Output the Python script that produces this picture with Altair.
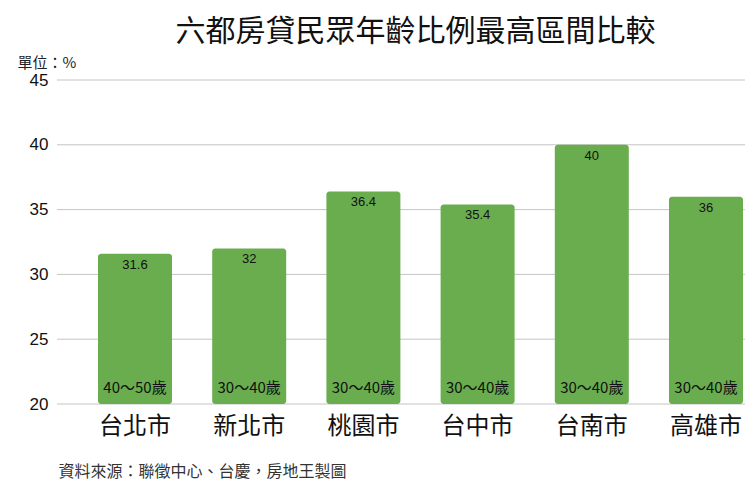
import altair as alt
import pandas as pd

cities = ["台北市", "新北市", "桃園市", "台中市", "台南市", "高雄市"]
values = [31.6, 32, 36.4, 35.4, 40, 36]
ages = ["40～50歲", "30～40歲", "30～40歲", "30～40歲", "30～40歲", "30～40歲"]
grid_vals = [20, 25, 30, 35, 40, 45]

df = pd.DataFrame({"city": cities, "value": values, "age": ages})
gdf = pd.DataFrame({"g": grid_vals})

CJK = "Noto Sans CJK TC"
LAT = "Liberation Sans"

yscale = alt.Scale(domain=[20, 45], zero=False, nice=False)

yaxis = alt.Axis(
    title="單位：%",
    titleFont=CJK,
    titleFontSize=15,
    titleFontWeight="normal",
    titleColor="#222222",
    titleAngle=0,
    titleAlign="left",
    titleBaseline="middle",
    titleX=-81,
    titleY=-18,
    values=grid_vals,
    grid=False,
    ticks=False,
    domain=False,
    labelFont=LAT,
    labelFontSize=17,
    labelColor="#111111",
    labelPadding=50,
)

x_enc = alt.X(
    "city:N",
    sort=cities,
    scale=alt.Scale(paddingInner=0.352, paddingOuter=0),
    axis=alt.Axis(
        title="資料來源：聯徵中心、台慶，房地王製圖",
        titleFont=CJK,
        titleFontSize=16,
        titleFontWeight="normal",
        titleColor="#333333",
        titleAnchor="start",
        titleAlign="left",
        titleX=-40,
        titleY=67,
        titleBaseline="middle",
        labelAngle=0,
        labelFont=CJK,
        labelFontSize=24,
        labelColor="#111111",
        labelPadding=10,
        ticks=False,
        domain=False,
        grid=False,
    ),
)

grid = alt.Chart(gdf).mark_rule(color="#c4c4c4", strokeWidth=1).encode(
    y=alt.Y("g:Q", scale=yscale, axis=yaxis),
    x=alt.value(-41),
    x2=alt.value(655),
)

bars = alt.Chart(df).mark_bar(color="#6aad4f", cornerRadius=3).encode(
    x=x_enc,
    y=alt.Y("value:Q", scale=yscale, axis=yaxis),
    y2=alt.datum(20),
)

vals = alt.Chart(df).mark_text(
    font=LAT, fontSize=13, color="#111111", dy=11, baseline="middle"
).encode(
    x=alt.X("city:N", sort=cities),
    y=alt.Y("value:Q", scale=yscale),
    text=alt.Text("value:Q"),
)

agetxt = alt.Chart(df).mark_text(
    font=CJK, fontSize=15, color="#111111", dy=-16, baseline="middle"
).encode(
    x=alt.X("city:N", sort=cities),
    y=alt.datum(20, scale=yscale),
    text="age:N",
)

chart = alt.layer(grid, bars, vals, agetxt).properties(
    width=645,
    height=324,
    background="white",
    padding={"left": 90, "top": 72, "right": 2, "bottom": 82},
    autosize=alt.AutoSizeParams(type="none"),
    title=alt.TitleParams(
        text="六都房貸民眾年齡比例最高區間比較",
        font=CJK,
        fontSize=30,
        fontWeight="normal",
        color="#111111",
        anchor="middle",
        dx=-5,
        offset=8,
    ),
).configure_view(strokeWidth=0).configure_axis(domain=False, grid=False)

chart.save("out.html", embed_options={"renderer": "svg", "actions": False})
